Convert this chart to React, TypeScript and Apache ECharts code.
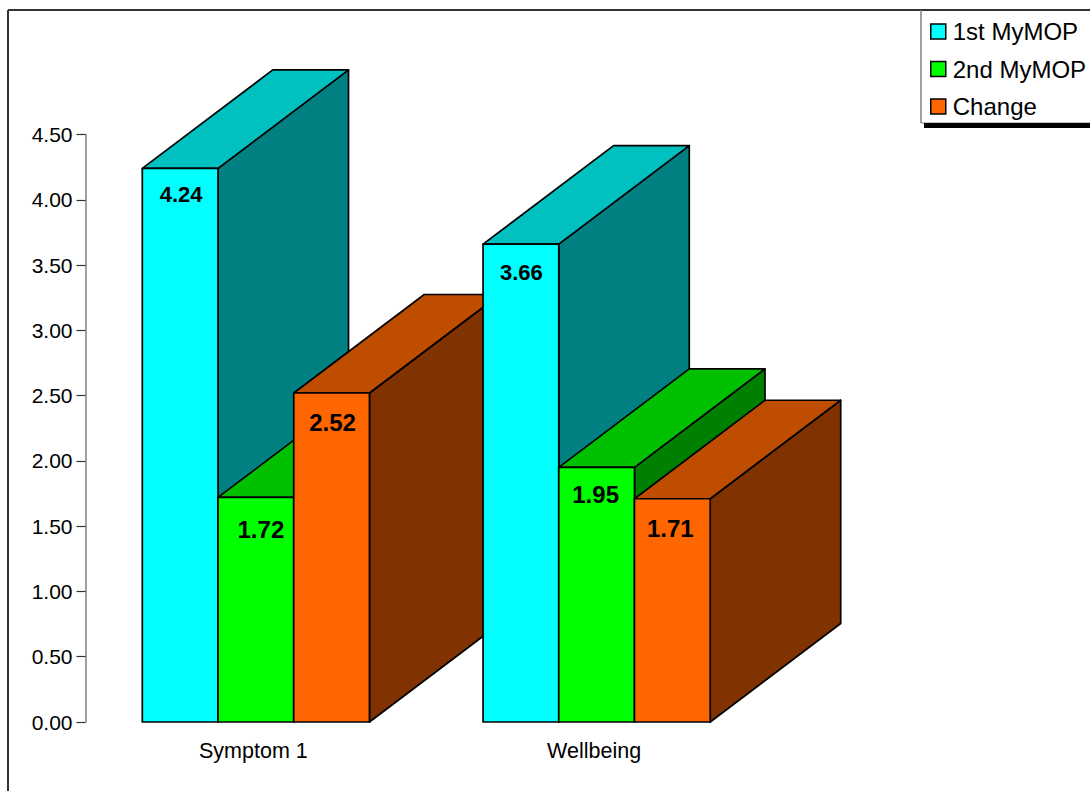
import React, { useEffect, useRef } from "react";
import * as echarts from "echarts";

const categories = ["Symptom 1", "Wellbeing"];
const seriesNames = ["1st MyMOP", "2nd MyMOP", "Change"];
const firstMyMop = [4.24, 3.66];
const secondMyMop = [1.72, 1.95];
const change = [2.52, 1.71];
const yTicks = { min: 0, max: 4.5, interval: 0.5 };

// Front, top and side shades of each prism.
const shades = [
  { front: "#00FFFF", top: "#00C0C0", side: "#008080" },
  { front: "#00FF00", top: "#00C000", side: "#008000" },
  { front: "#FF6600", top: "#BF4D00", side: "#803300" },
];

const FONT = '"Liberation Sans", Arial, sans-serif';
const DEPTH_X = 130.5;
const DEPTH_Y = -98.5;
const BAR_SHARE = 0.2222;

// Hand placement of the value labels, by [series][category]: dx, dy from the bar's top centre, size.
const labelPlacement = [
  [[1, 26, 22], [0.5, 28, 22]],
  [[5, 32, 24], [-1, 27, 24]],
  [[1, 29, 24], [-2, 30, 24]],
];

function renderPrism(params: any, api: any) {
  const s = params.seriesIndex;
  const cat = api.value(0);
  const val = api.value(1);
  const [cx, topY] = api.coord([cat, val]);
  const [, baseY] = api.coord([cat, 0]);
  const w = api.size([1, 0])[0] * BAR_SHARE;
  const x0 = cx - 1.5 * w + s * w;
  const x1 = x0 + w;
  const z2 = cat * 10 + s;
  const shade = shades[s];
  const edge = { stroke: "#000", lineWidth: 1.7, lineJoin: "round" };
  const [dx, dy, size] = labelPlacement[s][cat];
  const poly = (points: number[][], fill: string) => ({
    type: "polygon",
    z2,
    shape: { points },
    style: { fill, ...edge },
  });
  return {
    type: "group",
    children: [
      poly(
        [
          [x1, topY],
          [x1 + DEPTH_X, topY + DEPTH_Y],
          [x1 + DEPTH_X, baseY + DEPTH_Y],
          [x1, baseY],
        ],
        shade.side,
      ),
      poly(
        [
          [x0, topY],
          [x0 + DEPTH_X, topY + DEPTH_Y],
          [x1 + DEPTH_X, topY + DEPTH_Y],
          [x1, topY],
        ],
        shade.top,
      ),
      poly(
        [
          [x0, topY],
          [x1, topY],
          [x1, baseY],
          [x0, baseY],
        ],
        shade.front,
      ),
      {
        type: "text",
        z2,
        x: (x0 + x1) / 2 + dx,
        y: topY + dy,
        style: {
          text: val.toFixed(2),
          fill: "#000",
          align: "center",
          verticalAlign: "middle",
          fontFamily: FONT,
          fontWeight: "bold",
          fontSize: size,
        },
      },
    ],
  };
}

export default function App() {
  const ref = useRef<HTMLDivElement>(null);

  useEffect(() => {
    const chart = echarts.init(ref.current!, undefined, { renderer: "svg" });
    const values = [firstMyMop, secondMyMop, change];
    chart.setOption({
      animation: false,
      backgroundColor: "#fff",
      grid: { left: 85.5, right: 323, top: 134.5, bottom: 69 },
      xAxis: {
        type: "category",
        data: categories,
        axisLine: { show: false },
        axisTick: { show: false },
        axisLabel: {
          color: "#000",
          fontFamily: FONT,
          fontSize: 21.5,
          margin: 18,
          padding: [0, 5, 0, 0],
        },
      },
      yAxis: {
        type: "value",
        min: yTicks.min,
        max: yTicks.max,
        interval: yTicks.interval,
        splitLine: { show: false },
        axisLine: { show: true, lineStyle: { color: "#808080", width: 1.5 } },
        axisTick: { show: true, length: 9, lineStyle: { color: "#333", width: 1.2 } },
        axisLabel: {
          color: "#000",
          fontFamily: FONT,
          fontSize: 21,
          margin: 13,
          formatter: (v: number) => v.toFixed(2),
        },
      },
      legend: {
        orient: "vertical",
        left: 925,
        top: 14.5,
        itemWidth: 15,
        itemHeight: 15,
        itemGap: 13.5,
        icon: "rect",
        data: seriesNames,
        selectedMode: false,
        itemStyle: { borderColor: "#000", borderWidth: 1.5 },
        textStyle: { color: "#000", fontFamily: FONT, fontSize: 24, padding: [0, 0, 0, 2] },
      },
      graphic: [
        // Outer frame of the chart area
        { type: "line", shape: { x1: 8, y1: 10, x2: 1090, y2: 10 }, style: { stroke: "#333", lineWidth: 2 } },
        { type: "line", shape: { x1: 8, y1: 10, x2: 8, y2: 791 }, style: { stroke: "#333", lineWidth: 2 } },
        // Legend box edges with its heavy lower shadow
        { type: "line", shape: { x1: 921, y1: 10, x2: 921, y2: 123 }, style: { stroke: "#808080", lineWidth: 1.5 } },
        { type: "line", shape: { x1: 921, y1: 123, x2: 1090, y2: 123 }, style: { stroke: "#808080", lineWidth: 1 } },
        { type: "rect", shape: { x: 924, y: 123, width: 166, height: 5 }, style: { fill: "#000" } },
      ],
      series: seriesNames.map((name, i) => ({
        name,
        type: "custom",
        renderItem: renderPrism,
        itemStyle: { color: shades[i].front },
        encode: { x: 0, y: 1 },
        data: values[i].map((v, c) => [c, v]),
        silent: true,
      })),
    });
    return () => chart.dispose();
  }, []);

  return (
    <div
      ref={ref}
      style={{ position: "absolute", left: 0, top: 0, width: 1090, height: 791 }}
    />
  );
}
